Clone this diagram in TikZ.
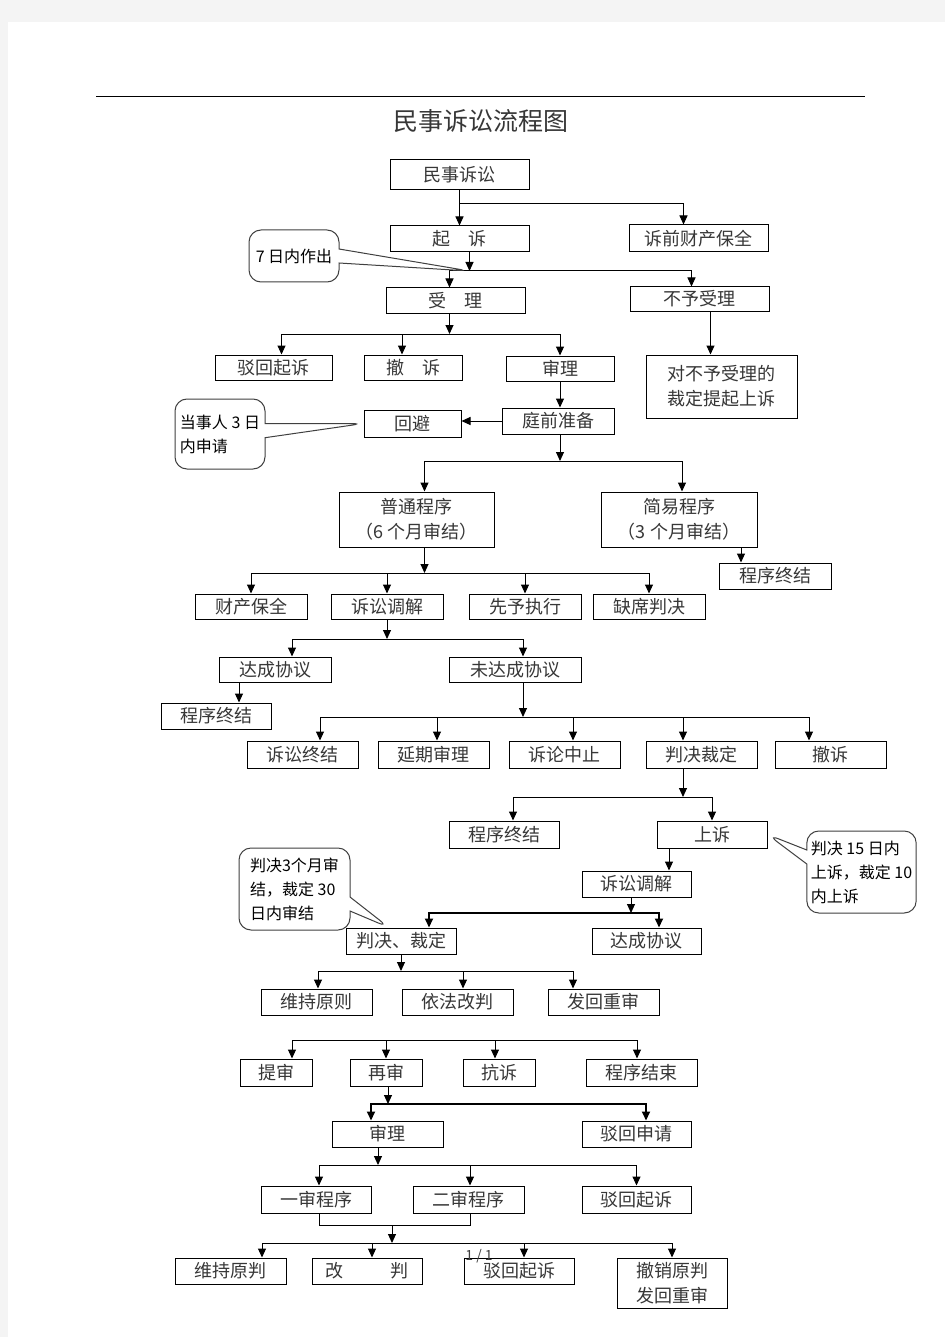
\documentclass[tikz,border=0pt]{standalone}
\usepackage{fontspec}
\setmainfont{Noto Sans CJK SC}
\usetikzlibrary{arrows.meta,shapes.callouts,positioning}
\definecolor{PageGray}{RGB}{244,244,244}
\definecolor{InkGray}{RGB}{55,55,55}

\begin{document}
\begin{tikzpicture}[x=1pt,y=-1pt,
        box/.style={draw=black,line width=1pt,text=InkGray,
                    font=\fontsize{18}{25}\selectfont,inner sep=0pt,
                    minimum width=111pt,minimum height=26pt,align=center},
        note/.style={rectangle callout,draw=black!75,line width=1pt,
                     rounded corners=12pt,fill=white,text=black,
                     font=\fontsize{16}{24}\selectfont,align=left,
                     inner sep=4pt,callout pointer width=14pt},
        arr/.style={-{Triangle[length=9pt,width=8pt]},line width=1pt},
        busb/.style={line width=1.8pt}
      ]
        % page
        \fill[PageGray] (0,0) rectangle (945,1337);
        \fill[white] (8,22) rectangle (945,1337);
        \useasboundingbox (0,0) rectangle (945,1337);
        \draw[line width=1pt] (96,97) -- (865,97);
        \node[font=\fontsize{25}{28}\selectfont,text=InkGray] (title) at (481,121) {民事诉讼流程图};

        % boxes, top part
        \node[box,minimum width=139pt,minimum height=30pt] (susong) at (459.5,175) {民事诉讼};
        \node[box,minimum width=139pt] (qisu) at (459.5,239) {起　诉};
        \node[box,minimum width=139pt,minimum height=27pt] (suqian) at (698.5,238.5) {诉前财产保全};
        \node[box,minimum width=139pt,minimum height=25pt] (shouli) at (455.5,300.5) {受　理};
        \node[box,minimum width=139pt,minimum height=24pt] (buyu) at (699.5,299) {不予受理};
        \node[box,minimum width=117pt,minimum height=25pt] (bohuiA) at (273.5,367.5) {驳回起诉};
        \node[box,minimum width=98pt,minimum height=25pt] (chesuA) at (413,367.5) {撤　诉};
        \node[box,minimum width=108pt,minimum height=25pt] (shenliA) at (560,368.5) {审理};
        \node[box,minimum width=151pt,minimum height=63pt] (buyuSu) at (721.5,386.5) {对不予受理的\\裁定提起上诉};
        \node[box,minimum width=112pt] (tingqian) at (558,421) {庭前准备};
        \node[box,minimum width=97pt,minimum height=27pt] (huibi) at (412.5,423.5) {回避};
        \node[box,minimum width=155pt,minimum height=55pt] (putong) at (416.5,519.5) {普通程序\\（6 个月审结）};
        \node[box,minimum width=156pt,minimum height=55pt] (jianyi) at (679,519.5) {简易程序\\（3 个月审结）};
        \node[box,minimum width=112pt] (zhongjieA) at (775,576) {程序终结};

        % middle part
        \node[box,minimum width=112pt,minimum height=25pt] (caichan) at (251,606.5) {财产保全};
        \node[box,minimum width=112pt,minimum height=25pt] (tiaojieA) at (387,606.5) {诉讼调解};
        \node[box,minimum width=112pt,minimum height=25pt] (xianyu) at (525,606.5) {先予执行};
        \node[box,minimum width=112pt,minimum height=25pt] (quexi) at (649,606.5) {缺席判决};
        \node[box,minimum width=112pt,minimum height=25pt] (dachengA) at (275,669.5) {达成协议};
        \node[box,minimum width=132pt,minimum height=25pt] (weida) at (515,669.5) {未达成协议};
        \node[box,minimum width=110pt] (zhongjieB) at (216,716) {程序终结};
        \node[box,minimum height=27pt] (zhongjieC) at (302.5,754.5) {诉讼终结};
        \node[box,minimum height=27pt] (yanqi) at (433.5,754.5) {延期审理};
        \node[box,minimum height=27pt] (zhongzhi) at (564.5,754.5) {诉论中止};
        \node[box,minimum height=27pt] (panjueA) at (701.5,754.5) {判决裁定};
        \node[box,minimum height=27pt] (chesuB) at (830.5,754.5) {撤诉};
        \node[box,minimum width=110pt,minimum height=27pt] (zhongjieD) at (504,834.5) {程序终结};
        \node[box,minimum width=110pt,minimum height=27pt] (shangsu) at (712,834.5) {上诉};
        \node[box,minimum width=109pt] (tiaojieB) at (636.5,884) {诉讼调解};
        \node[box,minimum width=110pt] (panjueB) at (401,941) {判决、裁定};
        \node[box,minimum width=109pt] (dachengB) at (646.5,941) {达成协议};
        \node[box] (weichiA) at (316.5,1002) {维持原则};
        \node[box] (yifa) at (457.5,1002) {依法改判};
        \node[box] (fahuiA) at (603.5,1002) {发回重审};

        % bottom part
        \node[box,minimum width=72pt,minimum height=27pt] (tishen) at (276,1072.5) {提审};
        \node[box,minimum width=72pt,minimum height=27pt] (zaishen) at (386,1072.5) {再审};
        \node[box,minimum width=72pt,minimum height=27pt] (kangsu) at (499,1072.5) {抗诉};
        \node[box,minimum height=27pt] (jieshu) at (641.5,1072.5) {程序结束};
        \node[box] (shenliB) at (387.5,1134) {审理};
        \node[box,minimum width=109pt] (bohuiSq) at (636.5,1134) {驳回申请};
        \node[box,minimum width=110pt,minimum height=27pt] (yishen) at (316,1199.5) {一审程序};
        \node[box,minimum height=27pt] (ershen) at (468.5,1199.5) {二审程序};
        \node[box,minimum width=109pt,minimum height=27pt] (bohuiB) at (636.5,1199.5) {驳回起诉};
        \node[box] (weichiB) at (230.5,1271) {维持原判};
        \node[box,minimum width=110pt] (gaipan) at (367,1271) {改\hspace{2.6em}判};
        \node[box,minimum width=110pt] (bohuiC) at (519,1271) {驳回起诉};
        \node[box,minimum width=110pt,minimum height=50pt] (chexiao) at (672,1283) {撤销原判\\发回重审};

        % junctions
        \coordinate (jA) at (469.5,271);
        \coordinate (jB) at (449.5,334);
        \coordinate (jC) at (560,461);
        \coordinate (jD) at (424.5,573);
        \coordinate (jE) at (387,639);
        \coordinate (jF) at (523,717);
        \coordinate (jG) at (683,797);
        \coordinate (jH) at (631,913);
        \coordinate (jI) at (401,971);
        \coordinate (jJ) at (386,1040);
        \coordinate (jK) at (388,1104);
        \coordinate (jL) at (378,1165);
        \coordinate (jM) at (392,1225);
        \coordinate (jN) at (392,1243);

        % connectors
        \draw[arr] (susong.south) -- (qisu.north);
        \draw[arr] (susong.south |- 0,204) -| ([xshift=-15pt]suqian.north);
        \draw[arr] ([xshift=10pt]qisu.south) -- (jA);
        \draw[arr] (jA) -| ([xshift=-6pt]shouli.north);
        \draw[arr] (jA) -| ([xshift=-8pt]buyu.north);
        \draw[arr] ([xshift=-6pt]shouli.south) -- (jB);
        \draw[arr] (jB) -| ([xshift=8pt]bohuiA.north);
        \draw[arr] (jB) -| ([xshift=-11pt]chesuA.north);
        \draw[arr] (jB) -| (shenliA.north);
        \draw[arr] ([xshift=11pt]buyu.south) -- ([xshift=-11pt]buyuSu.north);
        \draw[arr] (shenliA.south) -- (shenliA.south |- tingqian.north);
        \draw[arr] (tingqian.west) -- (tingqian.west -| huibi.east);
        \draw[arr] (tingqian.south -| jC) -- (jC);
        \draw[arr] (jC) -| ([xshift=8pt]putong.north);
        \draw[arr] (jC) -| ([xshift=3pt]jianyi.north);
        \draw[arr] ([xshift=62pt]jianyi.south) -- ([xshift=-34pt]zhongjieA.north);
        \draw[arr] ([xshift=8pt]putong.south) -- (jD);
        \draw[arr] (jD) -| (caichan.north);
        \draw[arr] (jD) -| (tiaojieA.north);
        \draw[arr] (jD) -| (xianyu.north);
        \draw[arr] (jD) -| (quexi.north);
        \draw[arr] (tiaojieA.south) -- (jE);
        \draw[arr] (jE) -| ([xshift=17pt]dachengA.north);
        \draw[arr] (jE) -| ([xshift=8pt]weida.north);
        \draw[arr] ([xshift=-36pt]dachengA.south) -- ([xshift=23pt]zhongjieB.north);
        \draw[arr] ([xshift=8pt]weida.south) -- (jF);
        \draw[arr] (jF) -| ([xshift=17.5pt]zhongjieC.north);
        \draw[arr] (jF) -| ([xshift=3.5pt]yanqi.north);
        \draw[arr] (jF) -| ([xshift=8.5pt]zhongzhi.north);
        \draw[arr] (jF) -| ([xshift=-18.5pt]panjueA.north);
        \draw[arr] (jF) -| ([xshift=-21.5pt]chesuB.north);
        \draw[arr] ([xshift=-18.5pt]panjueA.south) -- (jG);
        \draw[arr] (jG) -| ([xshift=9pt]zhongjieD.north);
        \draw[arr] (jG) -| (shangsu.north);
        \draw[arr] ([xshift=-43pt]shangsu.south) -- ([xshift=32.5pt]tiaojieB.north);
        \draw[arr] ([xshift=-5.5pt]tiaojieB.south) -- (jH);
        \draw[arr,busb] (jH) -| ([xshift=28pt]panjueB.north);
        \draw[arr,busb] (jH) -| ([xshift=12.5pt]dachengB.north);
        \draw[arr] (panjueB.south) -- (jI);
        \draw[arr] (jI) -| ([xshift=1.5pt]weichiA.north);
        \draw[arr] (jI) -| ([xshift=5.5pt]yifa.north);
        \draw[arr] (jI) -| ([xshift=-30.5pt]fahuiA.north);
        \draw[arr] (jJ) -| ([xshift=16pt]tishen.north);
        \draw[arr] (jJ) -| (zaishen.north);
        \draw[arr] (jJ) -| ([xshift=-4pt]kangsu.north);
        \draw[arr] (jJ) -| ([xshift=-4.5pt]jieshu.north);
        \draw[arr] ([xshift=2pt]zaishen.south) -- (jK);
        \draw[arr,busb] (jK) -| ([xshift=-16.5pt]shenliB.north);
        \draw[arr,busb] (jK) -| ([xshift=9.5pt]bohuiSq.north);
        \draw[arr] ([xshift=-9.5pt]shenliB.south) -- (jL);
        \draw[arr] (jL) -| ([xshift=3pt]yishen.north);
        \draw[arr] (jL) -| ([xshift=1.5pt]ershen.north);
        \draw[arr] (jL) -| (bohuiB.north);
        \draw[line width=1pt] ([xshift=3pt]yishen.south) |- (jM) -| ([xshift=1.5pt]ershen.south);
        \draw[arr] (jM) -- (jN);
        \draw[arr] (jN) -| ([xshift=31.5pt]weichiB.north);
        \draw[arr] (jN) -| ([xshift=5pt]gaipan.north);
        \draw[arr] (jN) -| ([xshift=5pt]bohuiC.north);
        \draw[arr] (jN) -| (chexiao.north);

        % callouts
        \node[note,minimum width=90pt,minimum height=52pt,callout absolute pointer={(jA)}] (noteA) at (294,256) {7 日内作出};
        \node[note,minimum width=90pt,minimum height=70pt,callout absolute pointer={(huibi.west)}] (noteB) at (220,434) {当事人 3 日\\内申请};
        \node[note,minimum width=105pt,minimum height=82pt,callout absolute pointer={(shangsu.east)}] (noteC) at (861.5,872) {判决 15 日内\\上诉，裁定 10\\内上诉};
        \node[note,minimum width=111pt,minimum height=82pt,callout absolute pointer={([xshift=-12pt]panjueB.north)}] (noteD) at (294.5,889) {判决3个月审\\结，裁定 30\\日内审结};

        \node[font=\fontsize{14}{15}\selectfont,text=black!75] (pageno) at (479,1256) {1 / 1};
      \end{tikzpicture}
\end{document}
